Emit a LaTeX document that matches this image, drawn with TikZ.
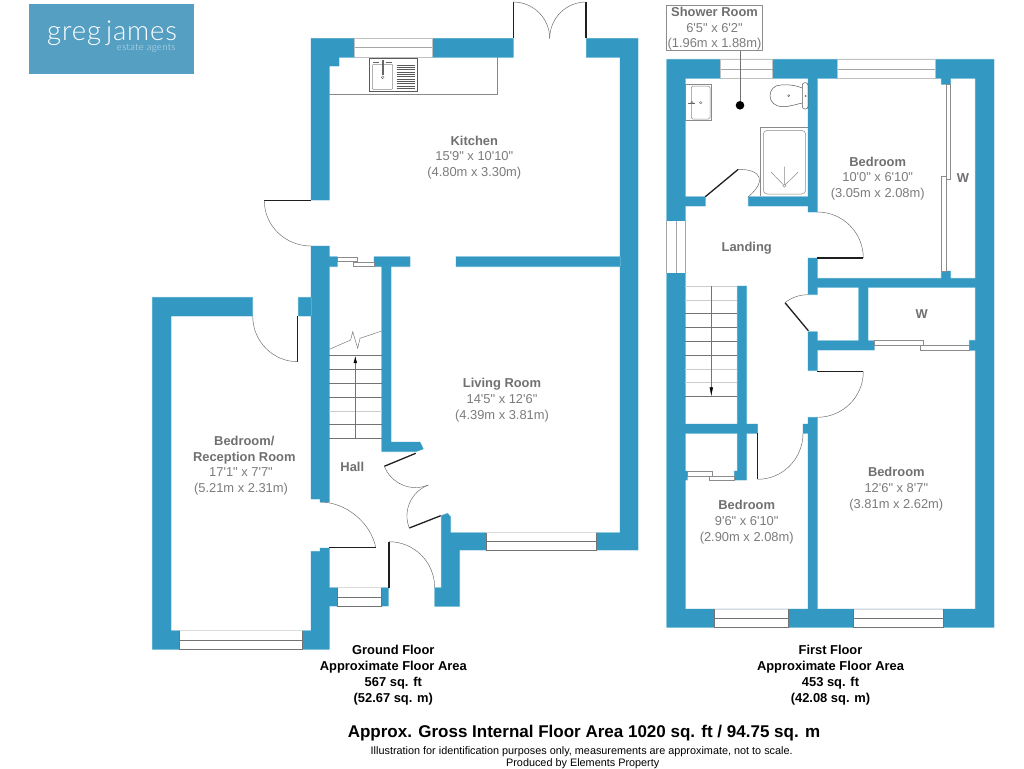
\documentclass[tikz,border=0pt]{standalone}
\usepackage{fontspec}
\usetikzlibrary{arrows.meta}
\newfontfamily\labf{Liberation Sans}
\newfontfamily\logof{Lato Light}
\definecolor{wallc}{HTML}{3398C2}
\definecolor{haloc}{HTML}{A8D6E8}
\definecolor{logoc}{HTML}{559FC3}
\definecolor{boldg}{HTML}{707072}
\definecolor{regg}{HTML}{7C7C7E}
\definecolor{fixg}{HTML}{8A8A8A}
\definecolor{wing}{HTML}{A6A6A6}
\tikzset{
 wallhalo/.style={draw=haloc,line width=.9pt,line join=round},
 leaf/.style={draw=black!88,line width=1.3pt,line cap=butt},
 swing/.style={draw=black!60,line width=.45pt},
 fixture/.style={draw=fixg,line width=.5pt},
 winbox/.style={fill=white,draw=none},
 winline/.style={draw=wing,line width=.7pt},
 winedge/.style={draw=black!55,line width=.6pt},
 slider/.style={fill=white,draw=black!45,line width=.5pt},
 tread/.style={draw=black!55,line width=.45pt},
 treadl/.style={draw=black!20,line width=.45pt},
 roomb/.style={inner sep=0pt,align=center,text=boldg,font=\labf\bfseries\fontsize{12.9}{15.7}\selectfont},
 room/.style={inner sep=0pt,align=center,text=regg,font=\labf\fontsize{12.9}{15.7}\selectfont},
 floorlab/.style={inner sep=0pt,align=center,text=black,font=\labf\bfseries\fontsize{12.9}{15.7}\selectfont},
}
% quarter-circle swing of a door: centre, start, end
\newcommand{\doorarc}[6]{%
 \pgfmathsetmacro{\cax}{#3+0.5523*(#5-#1)}\pgfmathsetmacro{\cay}{#4+0.5523*(#6-#2)}%
 \pgfmathsetmacro{\cbx}{#5+0.5523*(#3-#1)}\pgfmathsetmacro{\cby}{#6+0.5523*(#4-#2)}%
 \draw[swing] (#3,#4) .. controls (\cax,\cay) and (\cbx,\cby) .. (#5,#6);}
\newcommand{\wallsall}{
 % ground floor
 (311,38.5)--(513.3,38.5)--(513.3,57.5)--(339,57.5)--(339,66)--(329.3,66)--(329.3,200)--(311,200)--cycle
 (586.3,38.5)--(638,38.5)--(638,550)--(459.7,550)--(459.7,606.3)--(434.7,606.3)--(434.7,587.7)--(441.3,587.7)--(441.3,515.7)--(447.5,513.3)--(450.7,517)--(450.7,532.7)--(620,532.7)--(620,57.5)--(586.3,57.5)--cycle
 (456,256.7) rectangle (620.5,266.7)
 (374,256.7) rectangle (410,266.7)
 (381.7,266) rectangle (391,451.7)
 (381.7,451.7)--(415.7,451.7)--(423.3,449)--(420,442)--(381.7,442)--cycle
 (311,246)--(329.3,246)--(329.3,502)--(320,502)--(320,499)--(311,499)--cycle
 (329,256.7) rectangle (337.3,266.7)
 (298.3,297.3) rectangle (311.5,316)
 (152.3,297.3)--(252.7,297.3)--(252.7,316)--(171,316)--(171,630.7)--(311,630.7)--(311,551.3)--(320,551.3)--(320,548)--(329.3,548)--(329.3,649.3)--(152.3,649.3)--cycle
 (329,587.7) rectangle (388.3,606)
 % first floor
 (666.7,59.3) rectangle (994,78.3)
 (666.7,59.3) rectangle (685.3,627.3)
 (975.3,59.3) rectangle (994,627.3)
 (666.7,609) rectangle (994,627.3)
 (808,78) rectangle (817.3,212)
 (808,258) rectangle (817.3,294.7)
 (808,331.7) rectangle (817.3,370.7)
 (808,417.3) rectangle (817.3,610)
 (803,424) rectangle (808.5,433.3)
 (817,278.3) rectangle (976,287.3)
 (817,340.7) rectangle (874.3,350)
 (858.7,287) rectangle (868,341)
 (969.3,340.3) rectangle (976,350.3)
 (685,424) rectangle (757.5,433.3)
 (737.3,286) rectangle (746.7,424.5)
 (737.3,433) rectangle (746.7,480)
 (734.3,471) rectangle (737.5,480)
 (685,471) rectangle (687.3,480)
 (685,196.7) rectangle (705.3,206)
 (748.3,196.7) rectangle (808.5,206)
 (941.3,78) rectangle (950.7,84.3)
 (941.3,271) rectangle (950.7,278.5)
}
\begin{document}
\begin{tikzpicture}[x=1pt,y=-1pt]
\useasboundingbox (0,0) rectangle (1024,768);
\fill[white] (0,0) rectangle (1024,768);
% logo
\fill[logoc] (29,4) rectangle (194,73.7);
\node[inner sep=0pt,anchor=base west,text=white,font=\logof\fontsize{27.5}{27.5}\selectfont] (logomain) at (47,41) {\addfontfeature{LetterSpace=3}greg\hspace{5pt}james};
\node[inner sep=0pt,anchor=base east,text=white!75!logoc,font=\logof\fontsize{9.5}{10}\selectfont] (logosub) at (175.7,51) {\addfontfeature{LetterSpace=4}estate agents};
% walls
\draw[wallhalo] \wallsall;
\fill[wallc] \wallsall;
% windows, horizontal
\foreach \a/\b/\t/\m/\c in {354.7/432/38.5/47.7/57.5, 720.7/772.7/59.3/69/78.3, 837.7/935.3/59.3/69/78.3}{
 \fill[winbox] (\a,\t) rectangle (\b,\c);
 \draw[draw=wing!70,line width=.5pt] (\a,\t) -- (\b,\t) (\a,\c) -- (\b,\c) (\a,\t) -- (\a,\c) (\b,\t) -- (\b,\c);
 \draw[winline] (\a,\m) -- (\b,\m);
}
\foreach \a/\b/\t/\m/\c in {179.7/302.3/630.7/640/649.3, 337.7/381/587.7/597/606, 486/596.3/532.7/541.3/550, 714.7/788.3/609/618.3/627.3, 853.7/943.7/609/618.3/627.3}{
 \fill[winbox] (\a,\t) rectangle (\b,\c);
 \draw[draw=wing!40,line width=.5pt] (\a,\t) -- (\b,\t);
 \draw[winedge] (\a,\t) -- (\a,\c) -- (\b,\c) -- (\b,\t);
 \draw[winedge] (\a,\m) -- (\b,\m);
}
% landing window
\fill[winbox] (666.7,220.7) rectangle (685.3,273.3);
\draw[winline] (666.7,220.7) -- (666.7,273.3) (676,220.7) -- (676,273.3) (685.3,220.7) -- (685.3,273.3);
% sliding doors
\draw[slider] (337.3,257.3) rectangle (357.3,261.7);
\draw[slider] (353.3,262.3) rectangle (374,266.7);
\draw[slider] (874.3,340.3) rectangle (923.3,345.3);
\draw[slider] (920.3,345.3) rectangle (969.3,350.3);
\draw[slider] (687.3,471.3) rectangle (712.7,476);
\draw[slider] (709.3,476) rectangle (734.3,480.3);
\draw[slider] (946.3,84.3) rectangle (950.7,179);
\draw[slider] (941.3,176) rectangle (946.3,271);
% door leaves and swings: ground floor
\draw[leaf] (264.3,200.7) -- (311,200.7);  \doorarc{311}{200.7}{264.3}{200.7}{311}{246}
\draw[leaf] (297.7,316) -- (297.7,361.7);  \doorarc{297.7}{316}{252.7}{316}{297.7}{361.7}
\draw[leaf] (513.3,2) -- (513.3,38.5);     \doorarc{513.3}{38.5}{513.3}{2}{549.7}{38.5}
\draw[leaf] (586,2) -- (586,38.5);         \doorarc{586}{38.5}{586}{2}{549.7}{38.5}
\draw[leaf] (384.3,466.3) -- (415.7,453.3);\doorarc{415.7}{453.3}{384.3}{466.3}{428.3}{485}
\draw[leaf] (409.3,528) -- (440.7,515.7);  \doorarc{440.7}{515.7}{409.3}{528}{428.3}{485}
\draw[leaf] (329.3,547.3) -- (375.7,547.3);\doorarc{329.3}{547.3}{375.7}{547.3}{320}{502}
\draw[leaf] (389,541.7) -- (389,587.7);    \doorarc{389}{587.7}{389}{541.7}{434.7}{587.7}
% door leaves and swings: first floor
\draw[leaf] (705.3,196.7) -- (738.3,169.3);\doorarc{705.3}{196.7}{738.3}{169.3}{748.3}{196.7}
\draw[leaf] (817.3,258) -- (863.3,258);    \doorarc{817.3}{258}{863.3}{258}{817.3}{212}
\draw[leaf] (808.3,330.7) -- (785,302.7);
\draw[swing] (785,302.7) .. controls (791.45,297.33) and (799.7,294.77) .. (808,294.7);
\draw[leaf] (817.3,371.7) -- (863.3,371.7);\doorarc{817.3}{371.7}{863.3}{371.7}{817.3}{417.3}
\draw[leaf] (757.7,433.3) -- (757.7,479.3);\doorarc{757.7}{433.3}{757.7}{479.3}{803}{433.3}
% ground floor stairs
\foreach \y in {355.3,369.3,383.3,397.3,424.3,438.3} \draw[tread] (329.3,\y) -- (381.7,\y);
\draw[treadl] (329.3,411.3) -- (381.7,411.3);
\draw[tread,-{Latex[length=7pt,width=3.5pt,black]}] (355.3,438.3) -- (355.3,356);
\draw[tread] (329.3,349.3) -- (350.7,340) -- (352.7,331.7) -- (357.7,348.3) -- (360,338.3) -- (381.7,331);
% first floor stairs
\foreach \y in {300,369,382.7,286} \draw[treadl] (685.3,\y) -- (737.3,\y);
\foreach \y in {313.3,327.3,341.3,355.3,396.3} \draw[tread] (685.3,\y) -- (737.3,\y);
\draw[tread,-{Latex[length=9pt,width=3.5pt,black]}] (711.3,286) -- (711.3,396.3);
% kitchen worktop and sink
\draw[fixture] (329.3,94.3) -- (497.3,94.3) -- (497.3,57.5);
\draw[draw=black!65,line width=.5pt] (369.3,58.7) rectangle (417.7,91.3);
\draw[fixture,rounded corners=1pt] (372.3,64.3) rectangle (392.7,89.3);
\draw[draw=black!60,line width=.5pt] (381.8,60) rectangle (383.7,74);
\draw[draw=black!60,line width=.4pt] (382.7,77.3) circle (1.4);
\draw[draw=black!60,line width=.4pt] (373,62) -- (379,62) (386,62) -- (392,62);
\foreach \i in {0,...,10} \draw[draw=black!65,line width=.5pt] (396.7,65+2.33*\i) -- (415,65+2.33*\i);
% shower room fixtures
\draw[fixture] (685.7,84.3) rectangle (711.3,120.3);
\draw[fixture,rounded corners=1.5pt] (691.3,86) rectangle (710,119);
\draw[draw=black!60,line width=.4pt] (688,102.7) -- (695,102.7);
\draw[draw=black!60,line width=.4pt] (692,102.7) circle (1.2) (700.7,102.7) circle (1.2);
\draw[draw=black!65,line width=.5pt] (802.3,88) .. controls (792,84) and (786,85) .. (781,85) .. controls (774,85) and (770,90) .. (770,95.8) .. controls (770,102) and (775,106.7) .. (783,106.7) .. controls (790,106.7) and (797,104) .. (802.3,103);
\draw[draw=black!65,line width=.5pt,rounded corners=2.5pt] (802.3,82.7) rectangle (808,109);
\draw[draw=black!60,line width=.4pt] (788.7,95.7) circle (1) (805.7,96) circle (.7);
\draw[fixture] (760.3,196.3) -- (760.3,127.3) -- (808,127.3);
\draw[fixture,rounded corners=4pt] (763.3,130.3) rectangle (805.7,194);
\draw[fixture] (784.3,185.7) circle (1.5);
\draw[fixture] (784.3,184.2) -- (784.3,166.7) (783.3,184.7) -- (771,172) (785.3,184.7) -- (798.3,172);
% shower room label and its pointer
\node[draw=black!45,fill=white,line width=.6pt,minimum width=95.6pt,minimum height=45pt,inner sep=0pt,anchor=center] (showerbox) at (714.5,27.8) {};
\node[room] (showertext) at (714.5,28.7) {\textbf{\textcolor{boldg}{Shower Room}}\\6'5" x 6'2"\\(1.96m x 1.88m)};
\node[circle,fill=black,inner sep=0pt,minimum size=8.6pt] (showerdot) at (740,105.3) {};
\draw[draw=black!55,line width=.5pt] (showerdot) -- (showerdot |- showerbox.south);
% room labels
\node[room] (kitchen) at (474.3,157.5) {\textbf{\textcolor{boldg}{Kitchen}}\\15'9" x 10'10"\\(4.80m x 3.30m)};
\node[room] (living) at (502,400.2) {\textbf{\textcolor{boldg}{Living Room}}\\14'5" x 12'6"\\(4.39m x 3.81m)};
\node[roomb] (recep) at (244.3,450.3) {Bedroom/\\Reception Room};
\node[room] (recepdim) at (241,481.7) {17'1" x 7'7"\\(5.21m x 2.31m)};
\node[roomb] (hall) at (352.3,466.7) {Hall};
\node[roomb] (landing) at (746.7,247.7) {Landing};
\node[room] (bedone) at (877.7,178.5) {\textbf{\textcolor{boldg}{Bedroom}}\\10'0" x 6'10"\\(3.05m x 2.08m)};
\node[room] (bedtwo) at (896.3,489.2) {\textbf{\textcolor{boldg}{Bedroom}}\\12'6" x 8'7"\\(3.81m x 2.62m)};
\node[room] (bedthree) at (746.7,522) {\textbf{\textcolor{boldg}{Bedroom}}\\9'6" x 6'10"\\(2.90m x 2.08m)};
\node[roomb] (wone) at (963,178) {W};
\node[roomb] (wtwo) at (921.7,314) {W};
% floor captions
\node[floorlab] (groundcap) at (393.3,675.2) {Ground Floor\\Approximate Floor Area\\567 sq. ft\\(52.67 sq. m)};
\node[floorlab] (firstcap) at (830.5,675.2) {First Floor\\Approximate Floor Area\\453 sq. ft\\(42.08 sq. m)};
\node[inner sep=0pt,font=\labf\bfseries\fontsize{17}{18}\selectfont] (gross) at (584,733) {Approx. Gross Internal Floor Area 1020 sq. ft / 94.75 sq. m};
\node[inner sep=0pt,font=\labf\fontsize{10.85}{12}\selectfont] (disclaim) at (581.7,751.5) {Illustration for identification purposes only, measurements are approximate, not to scale.};
\node[inner sep=0pt,font=\labf\fontsize{10.85}{12}\selectfont] (produced) at (582.7,763.2) {Produced by Elements Property};
\end{tikzpicture}
\end{document}
